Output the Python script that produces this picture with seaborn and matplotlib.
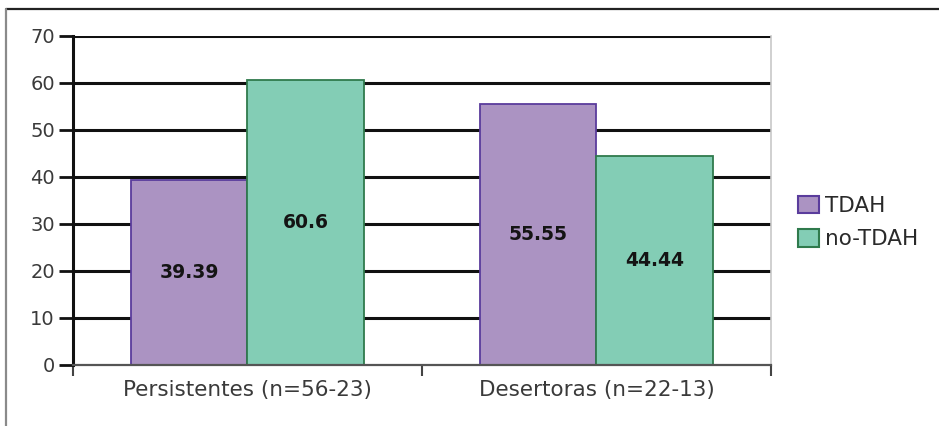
import matplotlib
matplotlib.use("Agg")
import matplotlib.pyplot as plt
from matplotlib.lines import Line2D
import seaborn as sns
import pandas as pd

categories = ["Persistentes (n=56-23)", "Desertoras (n=22-13)"]
groups = ["TDAH", "no-TDAH"]
tdah_values = [39.39, 55.55]
no_tdah_values = [60.6, 44.44]
value_labels = {"TDAH": ["39.39", "55.55"], "no-TDAH": ["60.6", "44.44"]}
y_ticks = [0, 10, 20, 30, 40, 50, 60, 70]

df = pd.DataFrame({
    "grupo": categories * 2,
    "tipo": ["TDAH"] * 2 + ["no-TDAH"] * 2,
    "valor": tdah_values + no_tdah_values,
})

sns.set_theme(style="white")
plt.rcParams["font.family"] = ["DejaVu Sans"]

fills = {"TDAH": "#ab93c2", "no-TDAH": "#83cdb5"}
edges = {"TDAH": "#5a3c9c", "no-TDAH": "#2f7a4c"}

fig = plt.figure(figsize=(9.39, 4.26), dpi=100)
ax = fig.add_axes([0.0777, 0.1432, 0.7434, 0.7723])

sns.barplot(data=df, x="grupo", y="valor", hue="tipo", order=categories,
            hue_order=groups, palette=fills, width=0.665, saturation=1,
            legend=False, ax=ax, zorder=3)

for container, g in zip(ax.containers, groups):
    for patch in container:
        patch.set_edgecolor(edges[g])
        patch.set_linewidth(1.3)
    for patch, txt in zip(container, value_labels[g]):
        cx = patch.get_x() + patch.get_width() / 2
        cy = patch.get_height() / 2
        ax.text(cx, cy, txt, ha="center", va="center", fontsize=13.5,
                fontweight="bold", color="#141414", zorder=5)

ax.set_xlim(-0.5, 1.5)
ax.set_ylim(0, 70)
ax.set_yticks(y_ticks)
ax.set_yticklabels([str(t) for t in y_ticks], fontsize=14, color="#3a3a3a")
ax.set_xticks([-0.5, 0.5, 1.5], minor=False)
ax.set_xticklabels(["", "", ""])
ax.set_xticks([0, 1], minor=True)
ax.set_xticklabels(categories, minor=True, fontsize=15.5, color="#3a3a3a")
ax.tick_params(axis="x", which="minor", length=0, pad=11)
ax.tick_params(axis="x", which="major", direction="out", length=8,
               width=1.5, color="#444444", bottom=True)
ax.tick_params(axis="y", direction="out", length=10, width=2,
               color="#111111", left=True, pad=3)
ax.set_xlabel("")
ax.set_ylabel("")

for t in y_ticks[1:]:
    ax.axhline(t, color="#111111", lw=2.2, zorder=1)

ax.spines["left"].set_color("#111111")
ax.spines["left"].set_linewidth(2.2)
ax.spines["bottom"].set_color("#555555")
ax.spines["bottom"].set_linewidth(1.6)
ax.spines["bottom"].set_zorder(4)
ax.spines["top"].set_visible(False)
ax.spines["right"].set_color("#c8c8c8")
ax.spines["right"].set_linewidth(1.2)

handles = [plt.Rectangle((0, 0), 1, 1, facecolor=fills[g], edgecolor=edges[g],
                         linewidth=1.5) for g in groups]
fig.legend(handles, groups, loc="center left", bbox_to_anchor=(0.85, 0.478),
           frameon=False, handlelength=0.95, handleheight=0.9,
           handletextpad=0.3, labelspacing=0.6, borderpad=0,
           borderaxespad=0, prop={"family": "DejaVu Sans", "size": 15.5})
for t in fig.legends[0].get_texts():
    t.set_color("#2a2a2a")

# outer frame of the figure
fig.add_artist(Line2D([0.0064, 1.0], [0.979, 0.979], transform=fig.transFigure,
                      color="#222222", lw=1.6))
fig.add_artist(Line2D([0.0064, 0.0064], [0.0, 0.979], transform=fig.transFigure,
                      color="#8a8a8a", lw=1.6))

fig.savefig("out.png", dpi=100)
